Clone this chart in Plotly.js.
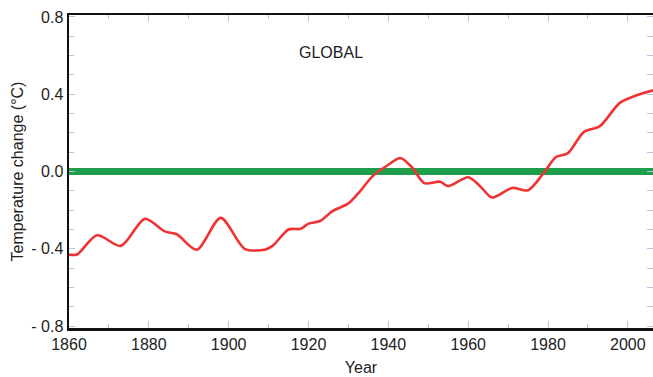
<!DOCTYPE html>
<html>
<head>
<meta charset="utf-8">
<script src="https://cdn.plot.ly/plotly-3.0.1.min.js"></script>
<style>html,body{margin:0;padding:0;background:#fff;}#chart{width:653px;height:377px;}</style>
</head>
<body>
<div id="chart"></div>
<script>
const years = [1860, 1862, 1867, 1873, 1879, 1884, 1887, 1892, 1898, 1904, 1909, 1911, 1915, 1918, 1920, 1923, 1926, 1930, 1933, 1936, 1940, 1943, 1946, 1949, 1953, 1955, 1960, 1963, 1966, 1971, 1975, 1979, 1982, 1985, 1989, 1993, 1998, 2003, 2006.3];
const tempChange = [-0.43, -0.43, -0.33, -0.385, -0.245, -0.31, -0.325, -0.405, -0.24, -0.40, -0.405, -0.385, -0.30, -0.297, -0.27, -0.255, -0.205, -0.165, -0.10, -0.025, 0.035, 0.07, 0.02, -0.06, -0.053, -0.076, -0.03, -0.076, -0.135, -0.085, -0.097, -0.005, 0.075, 0.095, 0.205, 0.235, 0.355, 0.40, 0.42];
const baselineX = [1860, 2006.3];
const baselineY = [0, 0];
const yTickVals = [-0.8, -0.4, 0, 0.4, 0.8];
const yTickText = ['- 0.8', '- 0.4', '0.0', '0.4', '0.8'];
const panelLabel = 'GLOBAL';

const font = {family: 'Liberation Sans, Arial, sans-serif', size: 16, color: '#222'};
const tickCol = '#b3c6dc';

const traces = [
  {x: baselineX, y: baselineY, mode: 'lines', line: {color: '#1e9e4a', width: 7}, hoverinfo: 'skip', yaxis: 'y'},
  {x: years, y: tempChange, mode: 'lines', line: {color: '#f03232', width: 2.6, shape: 'spline', smoothing: 0.8}, yaxis: 'y2'}
];

const layout = {
  width: 653, height: 377,
  margin: {l: 69, r: 0, t: 15, b: 49},
  paper_bgcolor: '#fff', plot_bgcolor: '#fff',
  showlegend: false,
  font: font,
  xaxis: {
    range: [1860, 2006.3], dtick: 20, tick0: 1860,
    ticks: 'inside', ticklen: 7, tickcolor: tickCol, tickwidth: 1,
    minor: {dtick: 10, ticks: 'inside', ticklen: 4, tickcolor: tickCol},
    showline: true, linecolor: '#111', linewidth: 2.5, mirror: 'ticks',
    showgrid: false, zeroline: false,
    tickfont: font,
    title: {text: 'Year', font: font, standoff: 10}
  },
  yaxis: {
    range: [-0.81, 0.81], tickvals: yTickVals, ticktext: yTickText,
    ticks: 'inside', ticklen: 6, tickcolor: tickCol,
    minor: {dtick: 0.1, tick0: 0, ticks: 'inside', ticklen: 5, tickcolor: tickCol},
    showline: true, linecolor: '#111', linewidth: 2.5,
    showgrid: false, zeroline: false,
    tickfont: font,
    title: {text: 'Temperature change (°C)', font: font, standoff: 4}
  },
  yaxis2: {
    range: [-0.81, 0.81], overlaying: 'y', side: 'right',
    dtick: 0.1, tick0: 0, ticks: 'inside', ticklen: 6, tickcolor: tickCol,
    showticklabels: false, showline: false, showgrid: false, zeroline: false
  },
  annotations: [{
    text: panelLabel, xref: 'paper', yref: 'paper', x: 0.448, y: 0.88,
    showarrow: false, font: font, xanchor: 'center', yanchor: 'middle'
  }]
};

Plotly.newPlot('chart', traces, layout, {staticPlot: true, displayModeBar: false});
</script>
</body>
</html>
